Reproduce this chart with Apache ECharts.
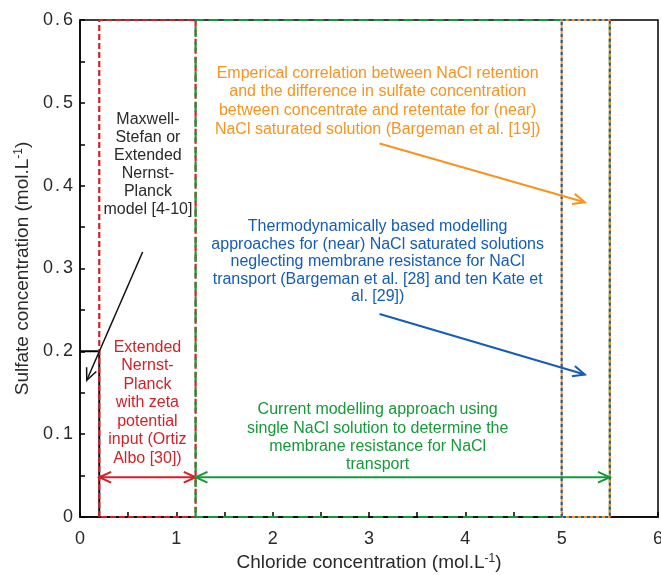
<!DOCTYPE html>
<html>
<head>
<meta charset="utf-8">
<style>
  html, body { margin: 0; padding: 0; background: #fff; }
  #chart { width: 661px; height: 575px; }
</style>
<script src="https://cdn.jsdelivr.net/npm/echarts@6/dist/echarts.min.js"></script>
</head>
<body>
<div id="chart"></div>
<script>
// Axis ranges and tick steps
const xRange = [0, 6];
const yRange = [0, 0.6];
const xStep = 1;
const yStep = 0.1;

// Chloride-concentration windows covered by each modelling approach
const mechanisticRange = [0.2, 1.2];     // Extended Nernst-Planck with zeta potential
const currentRange = [1.2, 5.5];         // current single-NaCl approach
const saturatedRange = [5.0, 5.5];       // (near) NaCl saturated solutions

// Maxwell-Stefan / ENP domain boundary (chloride, sulfate)
const maxwellBoundary = [[0, 0.2], [0.2, 0.2], [0.2, 0]];

// Arrows: [x1, y1, x2, y2, doubleHeaded]
const blackArrow = [0.65, 0.32, 0.07, 0.165, 0];
const orangeArrow = [3.11, 0.451, 5.24, 0.380, 0];
const blueArrow = [3.11, 0.245, 5.24, 0.172, 0];
const redArrow = [0.2, 0.048, 1.2, 0.048, 1];
const greenArrow = [1.2, 0.048, 5.5, 0.048, 1];

// Annotation texts and their anchors (chloride, sulfate)
const orangeText = 'Emperical correlation between NaCl retention\nand the difference in sulfate concentration\nbetween concentrate and retentate for (near)\nNaCl saturated solution (Bargeman et al. [19])';
const blueText = 'Thermodynamically based modelling\napproaches for (near) NaCl saturated solutions\nneglecting membrane resistance for NaCl\ntransport (Bargeman et al. [28] and ten Kate et\nal. [29])';
const greenText = 'Current modelling approach using\nsingle NaCl solution to determine the\nmembrane resistance for NaCl\ntransport';
const blackText = 'Maxwell-\nStefan or\nExtended\nNernst-\nPlanck\nmodel [4-10]';
const redText = 'Extended\nNernst-\nPlanck\nwith zeta\npotential\ninput (Ortiz\nAlbo [30])';
const orangeAnchor = [3.09, 0.502];
const blueAnchor = [3.09, 0.308];
const greenAnchor = [3.09, 0.096];
const blackAnchor = [0.705, 0.425];
const redAnchor = [0.70, 0.138];

const C = {
  orange: '#f7931e',
  blue: '#155cb8',
  green: '#159a38',
  red: '#d41f26',
  black: '#111',
  text: '#2a2a2a'
};
const FONT = '"Liberation Sans", Arial, sans-serif';

function rectPath(xr, yr) {
  return [[xr[0], yr[0]], [xr[0], yr[1]], [xr[1], yr[1]], [xr[1], yr[0]], [xr[0], yr[0]]];
}

function lineSeries(data, color, width, dash, z) {
  return {
    type: 'line',
    data: data,
    showSymbol: false,
    symbol: 'none',
    clip: false,
    silent: true,
    z: z,
    lineStyle: { color: color, width: width, type: dash },
    animation: false
  };
}

function arrowSeries(arrow, color, width, z) {
  return {
    type: 'custom',
    data: [arrow],
    z: z,
    silent: true,
    animation: false,
    renderItem: function (params, api) {
      const p1 = api.coord([api.value(0), api.value(1)]);
      const p2 = api.coord([api.value(2), api.value(3)]);
      const dbl = api.value(4) === 1;
      const len = 13, ang = 0.42;
      function head(tip, from) {
        const a = Math.atan2(from[1] - tip[1], from[0] - tip[0]);
        return {
          type: 'polyline',
          shape: { points: [
            [tip[0] + len * Math.cos(a + ang), tip[1] + len * Math.sin(a + ang)],
            tip,
            [tip[0] + len * Math.cos(a - ang), tip[1] + len * Math.sin(a - ang)]
          ] },
          style: { stroke: color, lineWidth: width, fill: null }
        };
      }
      const children = [
        { type: 'line', shape: { x1: p1[0], y1: p1[1], x2: p2[0], y2: p2[1] },
          style: { stroke: color, lineWidth: width } },
        head(p2, p1)
      ];
      if (dbl) children.push(head(p1, p2));
      return { type: 'group', children: children };
    }
  };
}

function textSeries(anchor, text, color, lineHeight) {
  return {
    type: 'custom',
    data: [anchor],
    z: 20,
    silent: true,
    animation: false,
    renderItem: function (params, api) {
      const p = api.coord([api.value(0), api.value(1)]);
      return {
        type: 'text',
        x: p[0],
        y: p[1],
        style: {
          text: text,
          fill: color,
          fontSize: 16,
          fontFamily: FONT,
          align: 'center',
          verticalAlign: 'middle',
          lineHeight: lineHeight
        }
      };
    }
  };
}

const chart = echarts.init(document.getElementById('chart'), null, { renderer: 'canvas' });

const tickLabelStyle = { fontSize: 18, color: C.text, fontFamily: FONT };

const axisCommon = {
  axisLine: { show: true, lineStyle: { color: '#000', width: 1.5 } },
  axisTick: { show: true, inside: true, length: 5, lineStyle: { color: '#000', width: 1.5 } },
  minorTick: { show: true, splitNumber: 2, length: 5, lineStyle: { color: '#000', width: 1.5 } },
  splitLine: { show: false },
  nameLocation: 'middle',
  nameTextStyle: {
    fontSize: 19, color: C.text, fontFamily: FONT,
    rich: { sup: { fontSize: 12, color: C.text, fontFamily: FONT, verticalAlign: 'top' } }
  }
};

const option = {
  backgroundColor: '#fff',
  animation: false,
  grid: {
    left: 80, right: 3, top: 20, bottom: 58,
    outerBoundsMode: 'none',
    containLabel: false,
    show: true, borderColor: '#000', borderWidth: 1.5, backgroundColor: 'transparent'
  },
  xAxis: Object.assign({}, axisCommon, {
    type: 'value',
    min: xRange[0], max: xRange[1], interval: xStep,
    name: 'Chloride concentration (mol.L{sup|-1})',
    nameGap: 35,
    axisLabel: Object.assign({ margin: 13 }, tickLabelStyle)
  }),
  yAxis: Object.assign({}, axisCommon, {
    type: 'value',
    min: yRange[0], max: yRange[1], interval: yStep,
    name: 'Sulfate concentration (mol.L{sup|-1})',
    nameGap: 45,
    axisLabel: Object.assign({
      margin: 7,
      formatter: function (v) {
        if (v === 0) return '0';
        const s = v.toFixed(1).split('.');
        return s[0] + '{dot|.}' + s[1];
      },
      rich: { dot: Object.assign({ padding: [0, 3, 0, 2] }, tickLabelStyle) }
    }, tickLabelStyle)
  }),
  series: [
    lineSeries(maxwellBoundary, '#000', 2, 'solid', 3),
    lineSeries(rectPath(mechanisticRange, yRange), C.red, 2.2, [6, 3], 4),
    lineSeries(rectPath(currentRange, yRange), C.green, 2.2, [10, 5], 5),
    lineSeries(rectPath(saturatedRange, yRange), C.orange, 2, 'solid', 6),
    lineSeries(rectPath(saturatedRange, yRange), C.blue, 2, [3, 3], 7),
    arrowSeries(blackArrow, C.black, 1.5, 10),
    arrowSeries(orangeArrow, C.orange, 2, 10),
    arrowSeries(blueArrow, C.blue, 2, 10),
    arrowSeries(redArrow, C.red, 2, 10),
    arrowSeries(greenArrow, C.green, 2, 10),
    textSeries(orangeAnchor, orangeText, C.orange, 18.7),
    textSeries(blueAnchor, blueText, C.blue, 17.5),
    textSeries(greenAnchor, greenText, C.green, 18.3),
    textSeries(blackAnchor, blackText, C.text, 18),
    textSeries(redAnchor, redText, C.red, 18.5)
  ]
};

chart.setOption(option);
</script>
</body>
</html>
